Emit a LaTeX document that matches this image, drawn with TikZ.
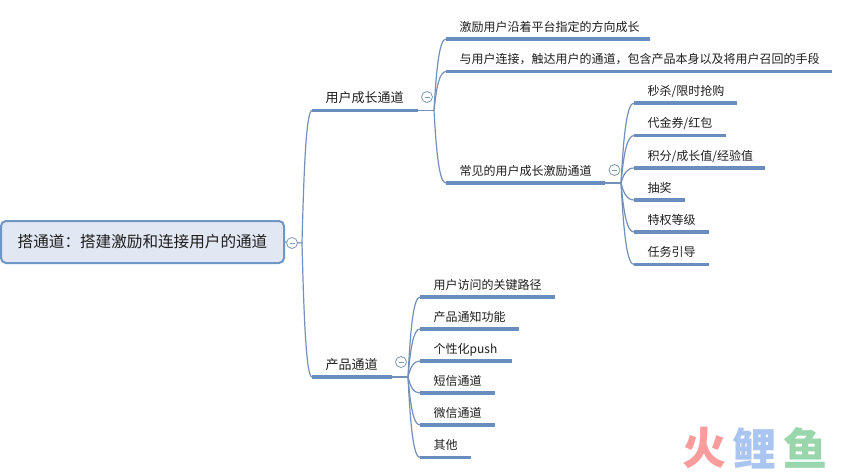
\documentclass[tikz,border=0pt]{standalone}
\usepackage{fontspec}
\setmainfont{Noto Sans CJK SC}
\usetikzlibrary{calc}
\definecolor{lineblue}{HTML}{6A8DBE}
\definecolor{curveblue}{HTML}{7391B8}
\definecolor{rootfill}{HTML}{E1E7F3}
\definecolor{rootedge}{HTML}{6F94C6}
\definecolor{inktext}{HTML}{1E1E1E}
\definecolor{togglegray}{HTML}{7F99B5}
\definecolor{wmpink}{HTML}{FB9C9C}
\definecolor{wmblue}{HTML}{A9C5F0}
\definecolor{wmgreen}{HTML}{9AD6AC}
\tikzset{
  x=1pt,y=-1pt,
  topic/.style={inner sep=0pt,anchor=south west,text=inktext,font=\fontsize{12}{14}\selectfont,text height=14pt,text depth=7.5pt},
  maintopic/.style={topic,font=\fontsize{13}{15}\selectfont,text depth=7.5pt},
  under/.style={draw=lineblue,line width=3.4pt},
  link/.style={draw=curveblue,line width=1.2pt},
  togglemark/.style={circle,draw=togglegray,fill=white,line width=0.8pt,minimum size=11pt,inner sep=0pt},
  rootbox/.style={draw=rootedge,fill=rootfill,line width=2pt,rounded corners=5pt,minimum width=283pt,minimum height=42pt,inner sep=0pt,text=inktext,font=\fontsize{15.6}{20}\selectfont},
  wmark/.style={inner sep=0pt,font=\fontsize{44}{44}\selectfont\bfseries},
}
% \topicnode[style]{name}{x1}{x2}{y}{text}
\newcommand{\topicnode}[6][topic]{%
  \pgfmathsetlengthmacro{\tw}{#4-#3}%
  \node[#1,minimum width=\tw] (#2) at (#3,#5) {\makebox[\tw][l]{\hspace{13.5pt}#6}};
}
\newcommand{\topicline}[1]{\draw[under] (#1.south west) -- (#1.south east);}
\newcommand{\linkto}[2]{%
  \draw[link] (#1) .. controls ($(#1)!0.6!(#1 |- #2.south west)+({0.2*(\dxval)},0)$) and ($(#2.south west)+({-0.55*(\dxval)},0)$) .. (#2.south west);
}
\begin{document}
\begin{tikzpicture}
\useasboundingbox (0,0) rectangle (850,472);
\fill[white] (0,0) rectangle (850,472);
% root
\node[rootbox] (root) at (142.5,242) {\raisebox{-1.5pt}{搭通道：搭建激励和连接用户的通道}};
% main topics
\topicnode[maintopic]{grow}{312}{418}{110.5}{用户成长通道}
\topicnode[maintopic]{prod}{312}{392}{377}{产品通道}
% growth children
\topicnode{g1}{446}{650}{39}{激励用户沿着平台指定的方向成长}
\topicnode{g2}{446}{832}{71.5}{与用户连接，触达用户的通道，包含产品本身以及将用户召回的手段}
\topicnode{g3}{446}{605}{183}{常见的用户成长激励通道}
% incentive children
\topicnode{i1}{634}{737}{103}{秒杀/限时抢购}
\topicnode{i2}{634}{726}{135.5}{代金券/红包}
\topicnode{i3}{634}{765}{168}{积分/成长值/经验值}
\topicnode{i4}{634}{685}{200}{抽奖}
\topicnode{i5}{634}{709}{232}{特权等级}
\topicnode{i6}{634}{709}{264.5}{任务引导}
% product children
\topicnode{p1}{420}{555}{297}{用户访问的关键路径}
\topicnode{p2}{420}{519}{329}{产品通知功能}
\topicnode{p3}{420}{512}{361}{个性化push}
\topicnode{p4}{420}{495}{393}{短信通道}
\topicnode{p5}{420}{495}{425}{微信通道}
\topicnode{p6}{420}{471}{457.5}{其他}
% junctions
\coordinate (jr) at (302,243);
\coordinate (jg) at (434,110.5);
\coordinate (jp) at (408,377);
\coordinate (ji) at (621,183);
% connectors
\draw[link] (root.east) -- (jr);
\draw[link] (grow.south east) -- (jg);
\draw[link] (prod.south east) -- (jp);
\draw[link] (g3.south east) -- (ji);
\def\dxval{10}
\foreach \c in {grow,prod} {\linkto{jr}{\c}}
\def\dxval{12}
\foreach \c in {g1,g2,g3} {\linkto{jg}{\c}}
\def\dxval{13}
\foreach \c in {i1,i2,i3,i4,i5,i6} {\linkto{ji}{\c}}
\def\dxval{12}
\foreach \c in {p1,p2,p3,p4,p5,p6} {\linkto{jp}{\c}}
% underlines
\foreach \c in {grow,prod,g1,g2,g3,i1,i2,i3,i4,i5,i6,p1,p2,p3,p4,p5,p6} {\topicline{\c}}
% toggles
\foreach \n/\px/\py in {troot/292/243,tgrow/427/97,tprod/401/362,tinc/614.5/170} {
  \node[togglemark] (\n) at (\px,\py) {};
  \draw[togglegray,line width=0.8pt] ($(\n)+(-2.5,0)$) -- ($(\n)+(2.5,0)$);
}
% watermark
\node[wmark,text=wmpink] (w1) at (704,448) {火};
\node[wmark,text=wmblue] (w2) at (754,448) {鲤};
\node[wmark,text=wmgreen] (w3) at (805,448) {鱼};
\end{tikzpicture}
\end{document}
